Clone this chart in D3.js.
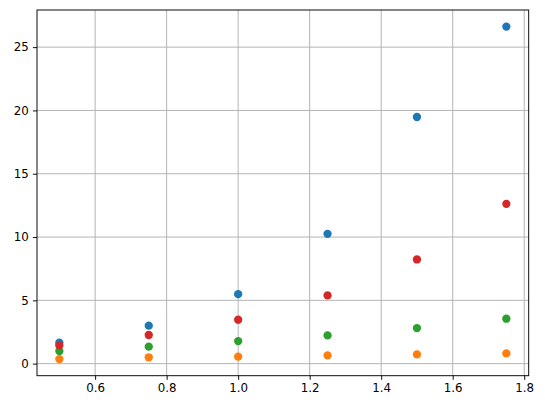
<!DOCTYPE html>
<meta charset="utf-8">
<script src="https://d3js.org/d3.v7.min.js"></script>
<style>
  body { margin: 0; background: #fff; }
  .tick text { font-family: "DejaVu Sans", sans-serif; font-size: 11.8px; fill: #000; }
</style>
<div id="my_dataviz"></div>
<script>

// data
var xValues = [0.5, 0.75, 1.0, 1.25, 1.5, 1.75];
var blueValues   = [1.66, 3.0, 5.49, 10.25, 19.48, 26.62];
var orangeValues = [0.36, 0.50, 0.55, 0.65, 0.73, 0.81];
var greenValues  = [0.99, 1.34, 1.78, 2.23, 2.81, 3.55];
var redValues    = [1.44, 2.26, 3.47, 5.39, 8.23, 12.62];
var xTicks = [0.6, 0.8, 1.0, 1.2, 1.4, 1.6, 1.8];
var yTicks = [0, 5, 10, 15, 20, 25];

var series = [
  {values: blueValues,   color: "#1f77b4"},
  {values: orangeValues, color: "#ff7f0e"},
  {values: greenValues,  color: "#2ca02c"},
  {values: redValues,    color: "#d62728"}
];

var W = 545, H = 409;
var margin = {top: 10, right: 16.3, bottom: 33.3, left: 37};
var width = W - margin.left - margin.right,
    height = H - margin.top - margin.bottom;

var svg = d3.select("#my_dataviz")
  .append("svg")
    .attr("width", W)
    .attr("height", H)
  .append("g")
    .attr("transform", "translate(" + margin.left + "," + margin.top + ")");

// matplotlib-like 5% margins
var allY = [].concat(blueValues, orangeValues, greenValues, redValues);
var xmin = d3.min(xValues), xmax = d3.max(xValues);
var ymin = d3.min(allY), ymax = d3.max(allY);
var dx = (xmax - xmin) * 0.05, dy = (ymax - ymin) * 0.05;

var x = d3.scaleLinear().domain([xmin - dx, xmax + dx]).range([0, width]);
var y = d3.scaleLinear().domain([ymin - dy, ymax + dy]).range([height, 0]);

// grid
svg.append("g")
  .selectAll("line")
  .data(xTicks)
  .enter().append("line")
    .attr("x1", d => x(d)).attr("x2", d => x(d))
    .attr("y1", 0).attr("y2", height)
    .attr("stroke", "#b0b0b0").attr("stroke-width", 0.95);
svg.append("g")
  .selectAll("line")
  .data(yTicks)
  .enter().append("line")
    .attr("y1", d => y(d)).attr("y2", d => y(d))
    .attr("x1", 0).attr("x2", width)
    .attr("stroke", "#b0b0b0").attr("stroke-width", 0.95);

// points
series.forEach(function(s) {
  svg.append("g")
    .selectAll("circle")
    .data(xValues)
    .enter().append("circle")
      .attr("cx", d => x(d))
      .attr("cy", (d, i) => y(s.values[i]))
      .attr("r", 4.15)
      .style("fill", s.color);
});

// axes
var xAxis = svg.append("g")
  .attr("transform", "translate(0," + height + ")")
  .call(d3.axisBottom(x).tickValues(xTicks).tickFormat(d3.format(".1f")).tickSizeOuter(0).tickSize(4.1).tickPadding(4.1));
var yAxis = svg.append("g")
  .call(d3.axisLeft(y).tickValues(yTicks).tickFormat(d3.format("d")).tickSizeOuter(0).tickSize(4.1).tickPadding(4.1));
[xAxis, yAxis].forEach(function(a) {
  a.select(".domain").remove();
  a.selectAll(".tick line").attr("stroke", "#000").attr("stroke-width", 0.95);
});

// spines
svg.append("rect")
  .attr("x", 0).attr("y", 0)
  .attr("width", width).attr("height", height)
  .attr("fill", "none")
  .attr("stroke", "#000")
  .attr("stroke-width", 0.95);

</script>
